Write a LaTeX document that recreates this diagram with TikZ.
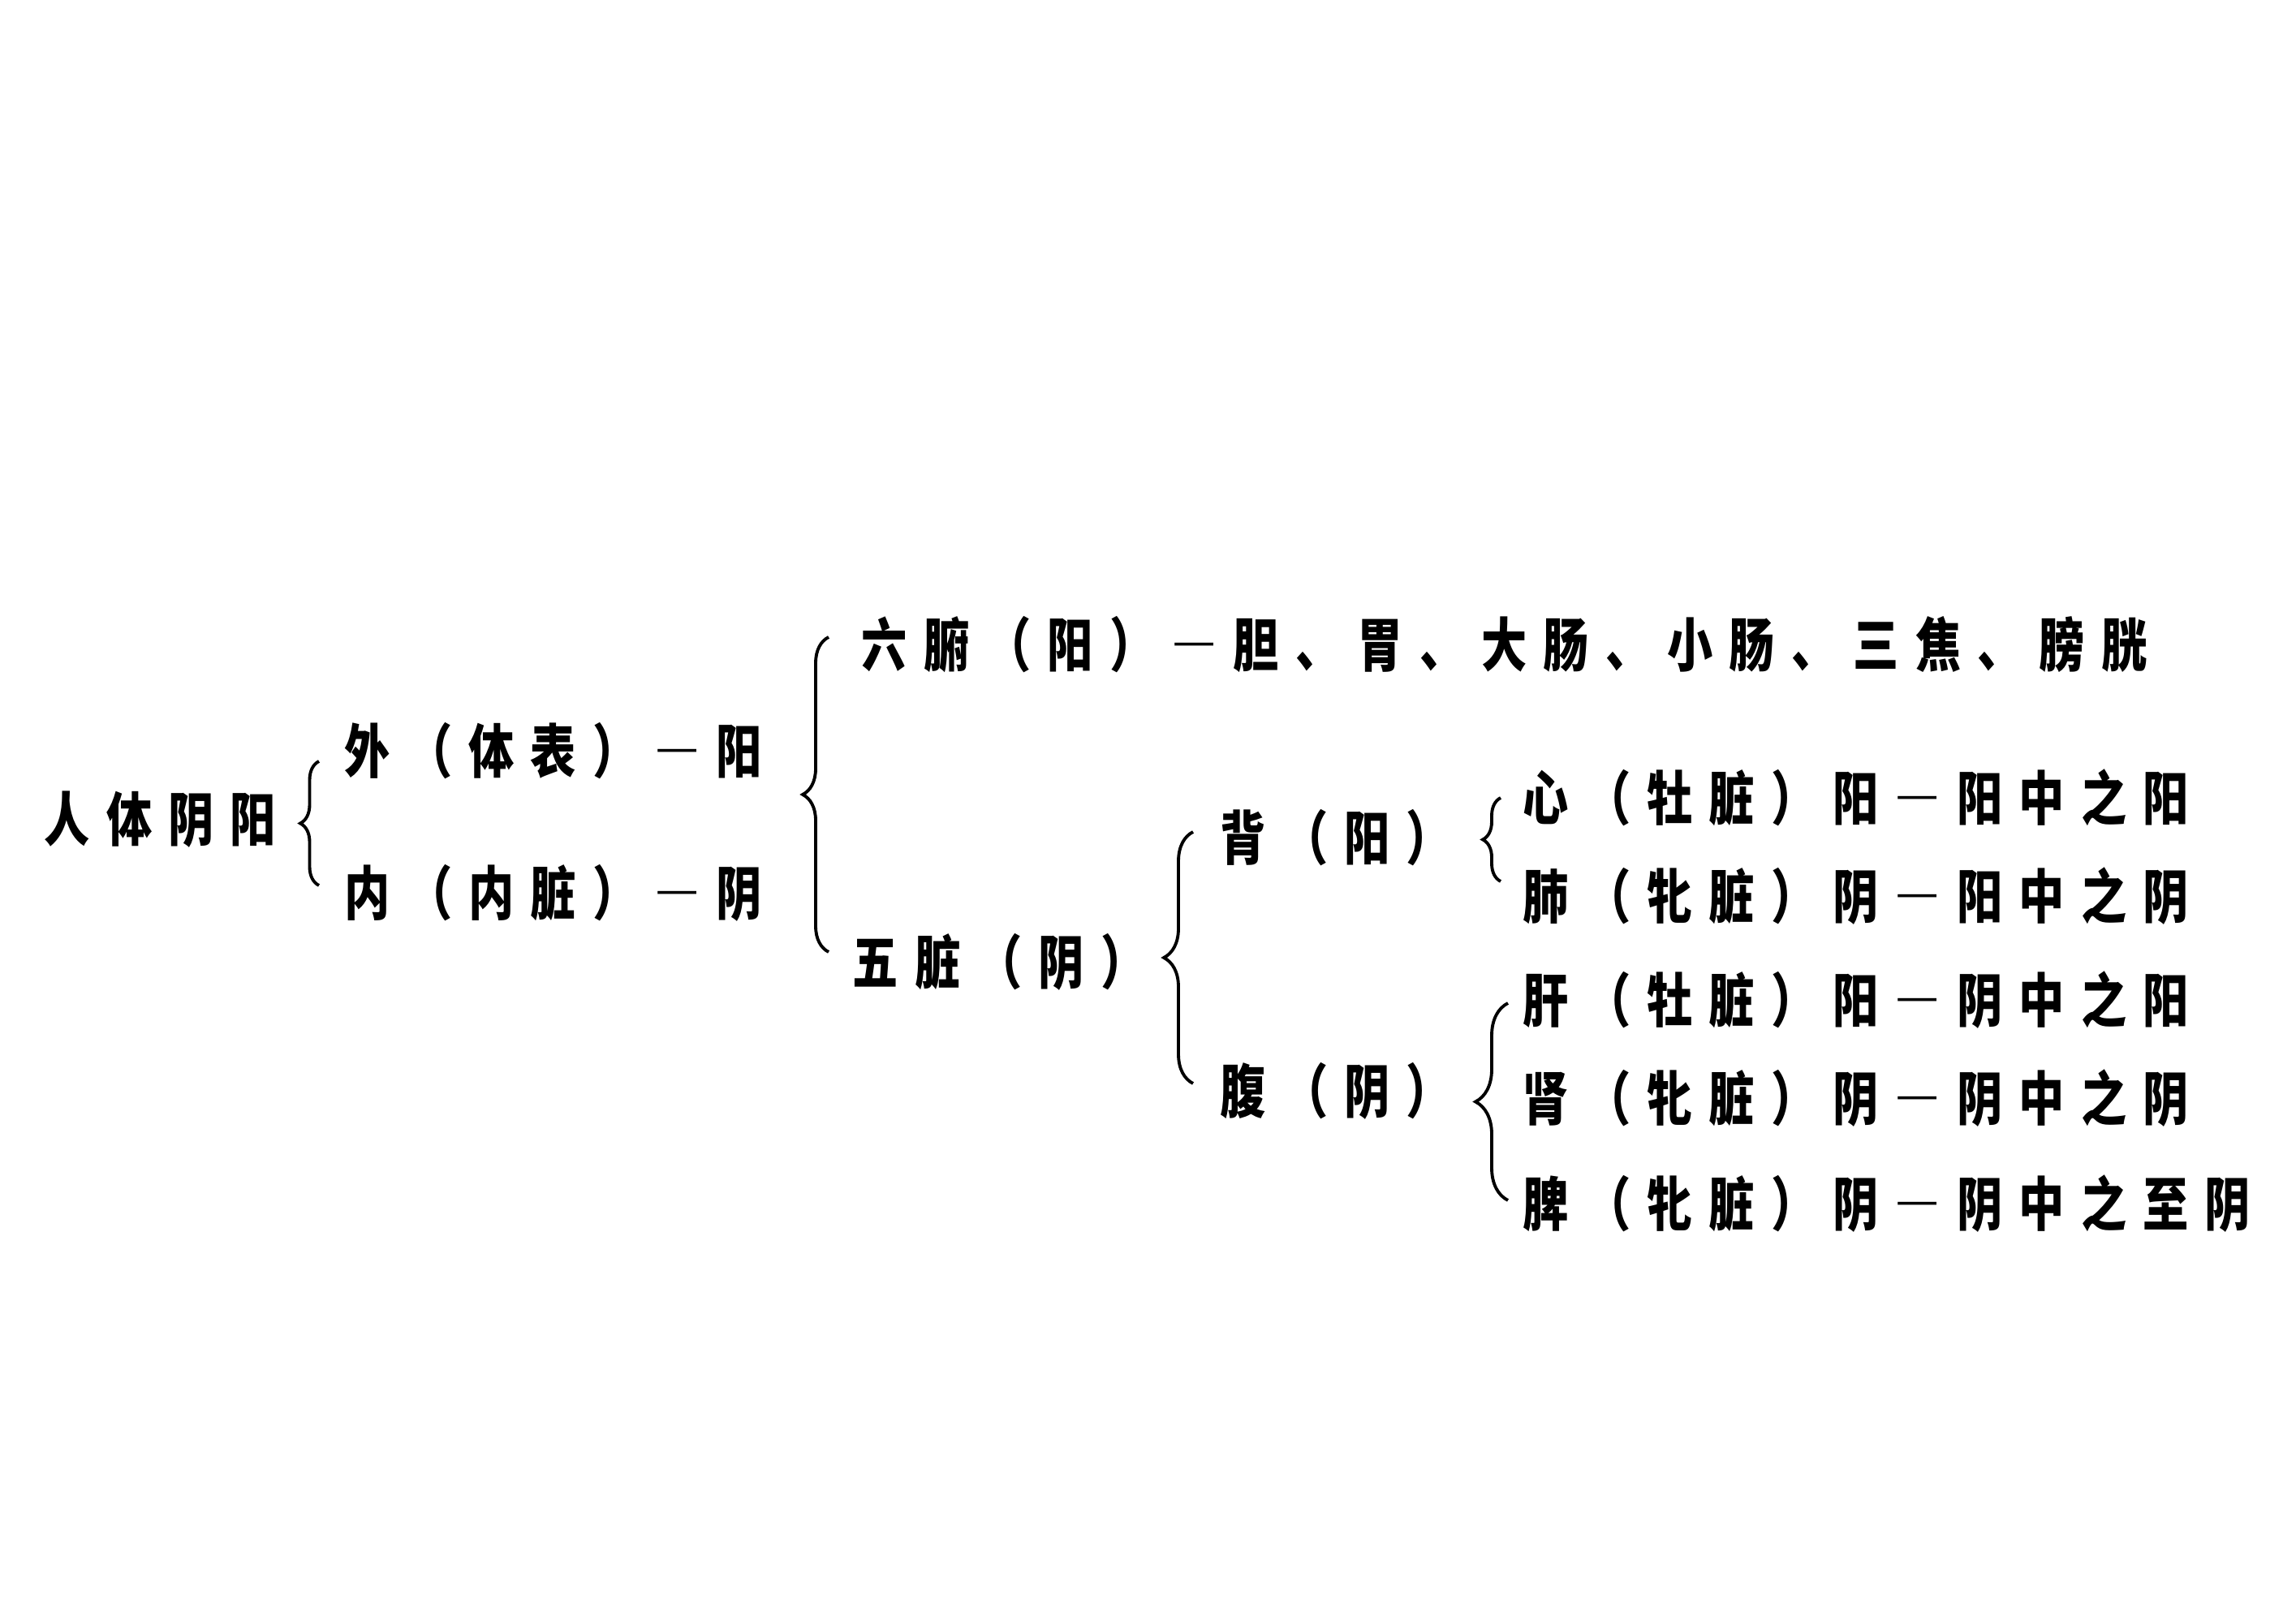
\documentclass[tikz,border=0pt]{standalone}
\usepackage{fontspec}
\newfontfamily\cjk[FakeStretch=0.78,LetterSpace=28,RawFeature=+fwid]{Noto Sans CJK SC}
\usetikzlibrary{positioning, calc, decorations.pathreplacing}

\begin{document}
\begin{tikzpicture}[
		txt/.style={anchor=west, inner sep=0pt, font=\cjk\bfseries\fontsize{20.5}{24}\selectfont},
		brc/.style={decorate, decoration={brace, amplitude=#1}, line width=1.1pt},
		brc/.default=0.25cm
		]
		\useasboundingbox (0,0) rectangle (28.29,20);
		
		% Root
		\node[txt] (root) at (0.54,9.90) {人体阴阳};
		
		% Outside / inside
		\node[txt] (wai) at (4.24,10.75) {外（体表）—阳};
		\node[txt, below=1.75cm of wai.west, anchor=west] (nei) {内（内脏）—阴};
		
		% Fu and zang
		\node[txt] (liufu) at (10.61,12.06) {六腑（阳）—胆、胃、大肠、小肠、三焦、膀胱};
		\node[txt] (wuzang) at (10.50,8.15) {五脏（阴）};
		
		% Back and belly
		\node[txt] (bei) at (15.03,9.68) {背（阳）};
		\node[txt, below=3.12cm of bei.west, anchor=west] (fu) {腹（阴）};
		
		% Five zang
		\node[txt] (xin) at (18.76,10.17) {心（牡脏）阳—阳中之阳};
		\node[txt, below=1.21cm of xin.west, anchor=west] (fei) {肺（牝脏）阴—阳中之阴};
		\node[txt, below=1.28cm of fei.west, anchor=west] (gan) {肝（牡脏）阳—阴中之阳};
		\node[txt, below=1.21cm of gan.west, anchor=west] (shen) {肾（牝脏）阴—阴中之阴};
		\node[txt, below=1.30cm of shen.west, anchor=west] (pi) {脾（牝脏）阴—阴中之至阴};
		
		% Braces
		\draw[brc=0.23cm] ([xshift=-0.31cm, yshift=0.09cm]nei.west) -- ([xshift=-0.31cm, yshift=-0.13cm]wai.west);
		\draw[brc=0.32cm] ($(wuzang.west)+(-0.29,0.12)$) -- ($(wuzang.west |- liufu.west)+(-0.29,0.09)$);
		\draw[brc=0.36cm] ([xshift=-0.33cm, yshift=0.09cm]fu.west) -- ([xshift=-0.33cm, yshift=0.07cm]bei.west);
		\draw[brc=0.22cm] ([xshift=-0.27cm, yshift=0.18cm]fei.west) -- ([xshift=-0.27cm]xin.west);
		\draw[brc=0.40cm] ([xshift=-0.18cm, yshift=0.04cm]pi.west) -- ([xshift=-0.18cm, yshift=-0.04cm]gan.west);
	\end{tikzpicture}
\end{document}
